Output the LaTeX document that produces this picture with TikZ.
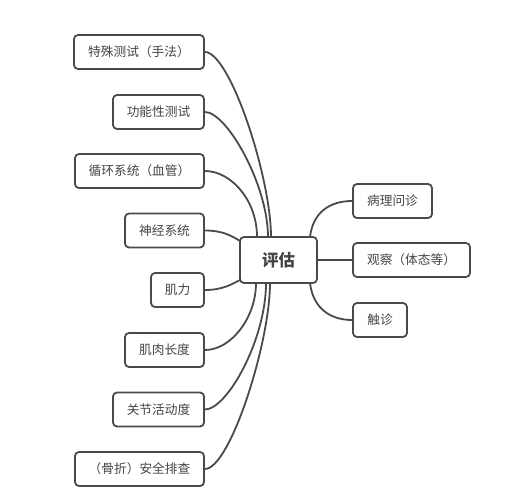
\documentclass[tikz,border=0pt]{standalone}
\usepackage{fontspec}
\setmainfont{Noto Sans CJK SC}
\definecolor{linec}{HTML}{4A4A4A}
\definecolor{textc}{HTML}{444444}
\begin{document}
\begin{tikzpicture}[x=1pt,y=-1pt,
  box/.style={draw=linec,line width=1.8pt,rounded corners=4pt,fill=white,
    minimum height=34pt,inner sep=0pt,text=textc,font=\fontsize{12.7}{14}\selectfont},
  rootbox/.style={box,minimum height=46pt,minimum width=77pt,font=\fontsize{16.5}{18}\selectfont\bfseries},
  conn/.style={draw=linec,line width=1.8pt}]
\useasboundingbox (0,0) rectangle (507,488);
% left nodes
\node[box,minimum width=130pt] (a) at (139,52) {特殊测试（手法）};
\node[box,minimum width=91pt] (b) at (158.5,112) {功能性测试};
\node[box,minimum width=129pt] (c) at (139.5,171) {循环系统（血管）};
\node[box,minimum width=79pt] (d) at (164.5,230.5) {神经系统};
\node[box,minimum width=53pt] (e) at (177.5,290) {肌力};
\node[box,minimum width=79pt] (f) at (164.5,350) {肌肉长度};
\node[box,minimum width=91pt] (g) at (158.5,409.5) {关节活动度};
\node[box,minimum width=129pt] (h) at (139.5,469) {（骨折）安全排查};
% root
\node[rootbox] (r) at (278.5,260) {评估};
% right nodes
\node[box,minimum width=79pt] (p) at (392.5,201) {病理问诊};
\node[box,minimum width=117pt] (q) at (411.5,260) {观察（体态等）};
\node[box,minimum width=54pt] (s) at (380,320) {触诊};
% anchor points on root
\coordinate (ra) at (271,237);
\coordinate (rb) at (268,237);
\coordinate (rc) at (257,237);
\coordinate (rd) at (240,241);
\coordinate (re) at (240,280);
\coordinate (rf) at (256,283);
\coordinate (rg) at (266,283);
\coordinate (rh) at (270,283);
\coordinate (rp) at (310,237);
\coordinate (rs) at (310,283);
\path[conn] (a.east) .. controls +(25,0) and (271,177) .. (ra);
\path[conn] (b.east) .. controls +(22,0) and (268,185) .. (rb);
\path[conn] (c.east) .. controls +(26,0) and (257,200) .. (rc);
\path[conn] (d.east) .. controls +(18,0) and (232,236) .. (rd);
\path[conn] (e.east) .. controls +(18,0) and (232,284) .. (re);
\path[conn] (f.east) .. controls +(26,0) and (256,318) .. (rf);
\path[conn] (g.east) .. controls +(22,0) and (266,340) .. (rg);
\path[conn] (h.east) .. controls +(25,0) and (270,343) .. (rh);
\path[conn] (rp) .. controls (313,212) and (330,201) .. (p.west);
\path[conn] (r.east) -- (q.west);
\path[conn] (rs) .. controls (313,308) and (330,320) .. (s.west);
\end{tikzpicture}
\end{document}
